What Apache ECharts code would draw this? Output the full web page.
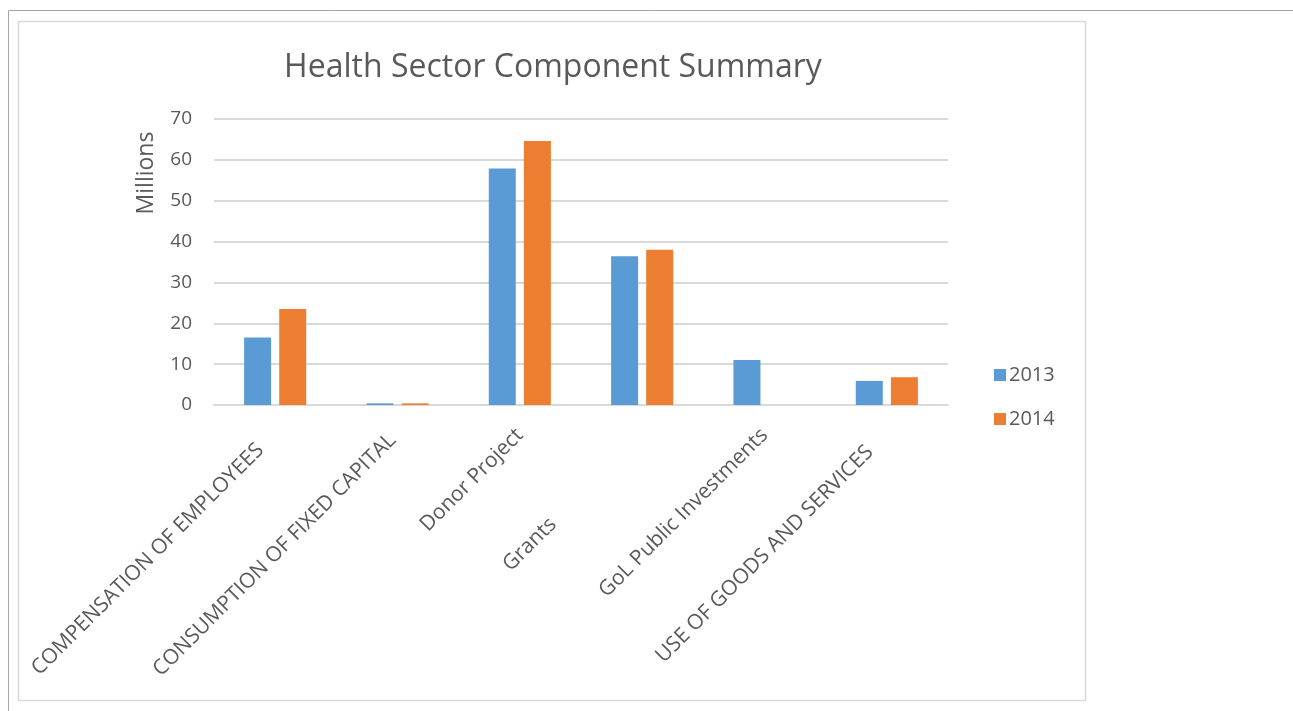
<!DOCTYPE html>
<html>
<head>
<meta charset="utf-8">
<script src="https://cdn.jsdelivr.net/npm/echarts@6/dist/echarts.min.js"></script>
<style>
  html, body { margin: 0; padding: 0; background: #fff; }
  #chart { width: 1293px; height: 711px; }
</style>
</head>
<body>
<div id="chart"></div>
<script>
// Health sector spending by component, in millions
const categories = [
  'COMPENSATION OF EMPLOYEES',
  'CONSUMPTION OF FIXED CAPITAL',
  'Donor Project',
  'Grants',
  'GoL Public Investments',
  'USE OF GOODS AND SERVICES'
];
const values2013 = [16.5, 0.4, 57.9, 36.4, 11.0, 5.9];
const values2014 = [23.5, 0.4, 64.6, 38.0, 0, 6.8];
const seriesNames = ['2013', '2014'];
const yTicks = { min: 0, max: 70, interval: 10 };

// how far each rotated category label slides down along its own direction (px)
const labelSlide = [21, 7, 0, 126, 0, 24];

const FONT = '"Open Sans", "Liberation Sans", sans-serif';
const TEXT = '#595959';

const axisData = categories.map((name, i) => ({
  value: name,
  textStyle: { padding: [0, labelSlide[i], 0, 0] }
}));

const chart = echarts.init(document.getElementById('chart'), null, { renderer: 'canvas' });

chart.setOption({
  animation: false,
  backgroundColor: '#ffffff',
  textStyle: { fontFamily: FONT },
  title: {
    text: 'Health Sector Component Summary',
    left: 548,
    top: 47,
    textAlign: 'center',
    textStyle: { fontFamily: FONT, fontSize: 32, fontWeight: 'normal', color: TEXT }
  },
  legend: {
    orient: 'vertical',
    left: 989,
    top: 360,
    itemWidth: 12,
    itemHeight: 12,
    itemGap: 24,
    icon: 'rect',
    textStyle: { fontFamily: FONT, fontSize: 20, color: TEXT, padding: [0, 0, 0, -2] },
    data: seriesNames
  },
  grid: { left: 214, right: 345, top: 119, bottom: 306, containLabel: false },
  xAxis: {
    type: 'category',
    data: axisData,
    axisLine: { show: true, lineStyle: { color: '#D9D9D9', width: 2 } },
    axisTick: { show: false },
    axisLabel: {
      rotate: 45,
      interval: 0,
      margin: 27,
      fontFamily: FONT,
      fontSize: 21,
      color: TEXT
    }
  },
  yAxis: {
    type: 'value',
    min: yTicks.min,
    max: yTicks.max,
    interval: yTicks.interval,
    axisLine: { show: false },
    axisTick: { show: false },
    axisLabel: { margin: 22, fontFamily: FONT, fontSize: 19, color: TEXT },
    splitLine: { lineStyle: { color: '#D9D9D9', width: 2 } }
  },
  series: [
    {
      name: seriesNames[0],
      type: 'bar',
      data: values2013,
      barWidth: 27,
      barGap: '30%',
      itemStyle: { color: '#5B9BD5' }
    },
    {
      name: seriesNames[1],
      type: 'bar',
      data: values2014,
      barWidth: 27,
      barGap: '30%',
      itemStyle: { color: '#ED7D31' }
    }
  ],
  graphic: [
    // outer frame lines
    { type: 'line', shape: { x1: 8.5, y1: 10.5, x2: 1293, y2: 10.5 }, style: { stroke: '#A6A6A6', lineWidth: 1 }, silent: true },
    { type: 'line', shape: { x1: 8.5, y1: 10.5, x2: 8.5, y2: 711 }, style: { stroke: '#A6A6A6', lineWidth: 1 }, silent: true },
    // chart area border
    { type: 'rect', shape: { x: 18.5, y: 21.5, width: 1067, height: 679 }, style: { fill: null, stroke: '#D9D9D9', lineWidth: 1.5 }, silent: true },
    // display-units label for the value axis
    {
      type: 'text',
      x: 146,
      y: 173,
      rotation: Math.PI / 2,
      style: {
        text: 'Millions',
        fontFamily: FONT,
        fontSize: 23,
        fill: TEXT,
        align: 'center',
        verticalAlign: 'middle'
      },
      silent: true
    }
  ]
});
</script>
</body>
</html>
